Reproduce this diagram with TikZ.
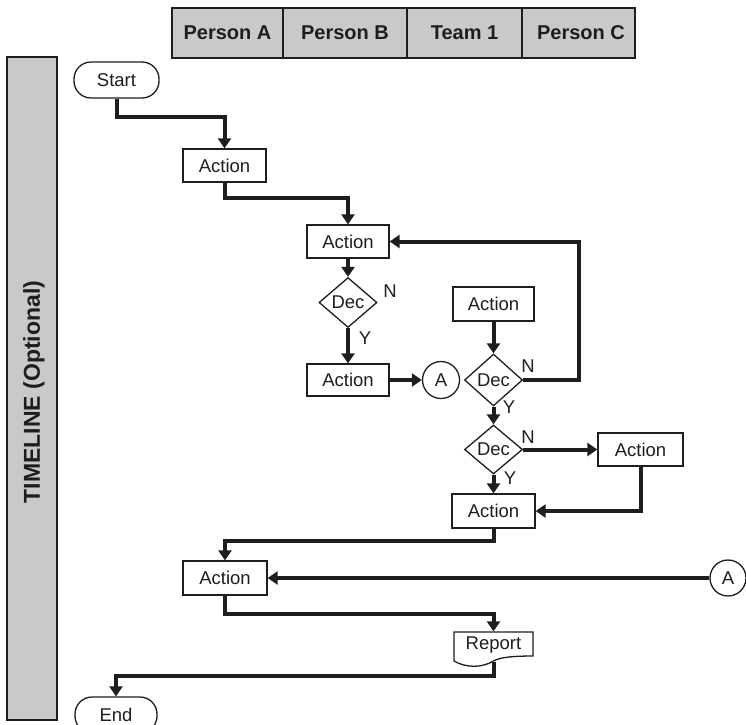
\documentclass[tikz,border=0pt]{standalone}
\usepackage{fontspec}
\setmainfont{Liberation Sans}
\usetikzlibrary{arrows.meta,shapes.geometric,calc}
\definecolor{hdrgray}{RGB}{200,201,203}
\definecolor{ink}{RGB}{30,30,30}
\tikzset{
  box/.style={draw=ink,line width=1.3pt,fill=white,inner sep=0pt,text=ink,
    font=\fontsize{18.5}{21}\selectfont},
  actbox/.style={box,rectangle,minimum width=83pt,minimum height=33pt},
  decbox/.style={box,diamond,inner sep=-14pt,minimum width=58pt,minimum height=50pt},
  termbox/.style={box,rectangle,rounded corners=17pt,minimum width=84pt,minimum height=36pt},
  conbox/.style={box,circle,minimum size=37pt},
  conn/.style={draw=ink,line width=4pt,-{Triangle[length=10pt,width=13pt]}},
  yn/.style={font=\fontsize{18.5}{21}\selectfont,inner sep=0pt,text=ink},
  hdr/.style={font=\bfseries\fontsize{20}{23}\selectfont,inner sep=0pt,text=ink},
}
\begin{document}
\begin{tikzpicture}[x=1pt,y=-1pt]
\useasboundingbox (0,0) rectangle (746,724);
% header
\draw[draw=ink,line width=1.3pt,fill=hdrgray] (172,8) rectangle (635,58);
\draw[draw=ink,line width=1.3pt] (283,8) -- (283,58) (407,8) -- (407,58) (522,8) -- (522,58);
\node[hdr] (hA) at (227.5,33) {Person A};
\node[hdr] (hB) at (345,33) {Person B};
\node[hdr] (hT) at (464.5,33) {Team 1};
\node[hdr] (hC) at (581,33) {Person C};
% timeline bar
\draw[draw=ink,line width=1.3pt,fill=hdrgray] (7,57) rectangle (57,720);
\node[rotate=90,font=\bfseries\fontsize{23}{26}\selectfont,text=ink,inner sep=0pt] (tl) at (34,392) {TIMELINE (Optional)};
% nodes
\node[termbox,minimum width=85pt] (start) at (116.5,80) {Start};
\node[actbox] (a1) at (224.5,165.5) {Action};
\node[actbox,minimum width=82pt] (a2) at (348,241.5) {Action};
\node[decbox] (d1) at (348,302.5) {Dec};
\node[actbox,minimum width=82pt,minimum height=32pt] (a3) at (348,380) {Action};
\node[conbox] (cA1) at (441,380) {A};
\node[actbox,minimum width=81pt,minimum height=34pt] (a4) at (493.5,304) {Action};
\node[decbox,minimum height=52pt] (d2) at (493.5,380) {Dec};
\node[decbox,minimum height=49pt] (d3) at (493.5,449.5) {Dec};
\node[actbox,minimum width=85pt] (a5) at (640.5,449.5) {Action};
\node[actbox,minimum height=34pt] (a6) at (493.5,511) {Action};
\node[actbox,minimum width=84pt,minimum height=34pt] (a7) at (225,578) {Action};
\node[conbox,minimum size=36pt] (cA2) at (728,578) {A};
% report (document shape)
\node[box,draw=none,fill=none,minimum width=79pt,minimum height=29pt] (rep) at (493.5,646.5) {};
\draw[draw=ink,line width=1.3pt,fill=white] (454,632) -- (533,632) -- (533,656)
  .. controls (515,656) and (500,657) .. (493.5,661)
  .. controls (482,668) and (466,668) .. (454,661) -- cycle;
\node[yn] (reptxt) at (493.5,645) {Report};
\node[termbox,minimum width=82pt] (end) at (116,715) {End};
% connectors
\draw[conn] (start.south) -- ++(0,18) -| (a1.north);
\draw[conn] (a1.south) -- ++(0,15) -| (a2.north);
\draw[conn] (a2.south) -- (d1.north);
\draw[conn] (d1.south) -- (a3.north);
\draw[conn] (a3.east) -- (cA1.west);
\draw[conn] (a4.south) -- (d2.north);
\draw[conn] (d2.east) -- ++(56,0) |- (a2.east);
\draw[conn] (d2.south) -- (d3.north);
\draw[conn] (d3.east) -- (a5.west);
\draw[conn] (d3.south) -- (a6.north);
\draw[conn] (a5.south) |- (a6.east);
\draw[conn] (a6.south) -- ++(0,12) -| (a7.north);
\draw[conn] (cA2.west) -- (a7.east);
\draw[conn] (a7.south) -- ++(0,18) -| (rep.north);
\draw[conn] (rep.south) -- ++(0,14) -| (end.north);
% labels
\node[yn] (n1) at (390,291) {N};
\node[yn] (y1) at (365,338) {Y};
\node[yn] (n2) at (528,366) {N};
\node[yn] (y2) at (509,407) {Y};
\node[yn] (n3) at (528,437) {N};
\node[yn] (y3) at (510,478) {Y};
\end{tikzpicture}
\end{document}
